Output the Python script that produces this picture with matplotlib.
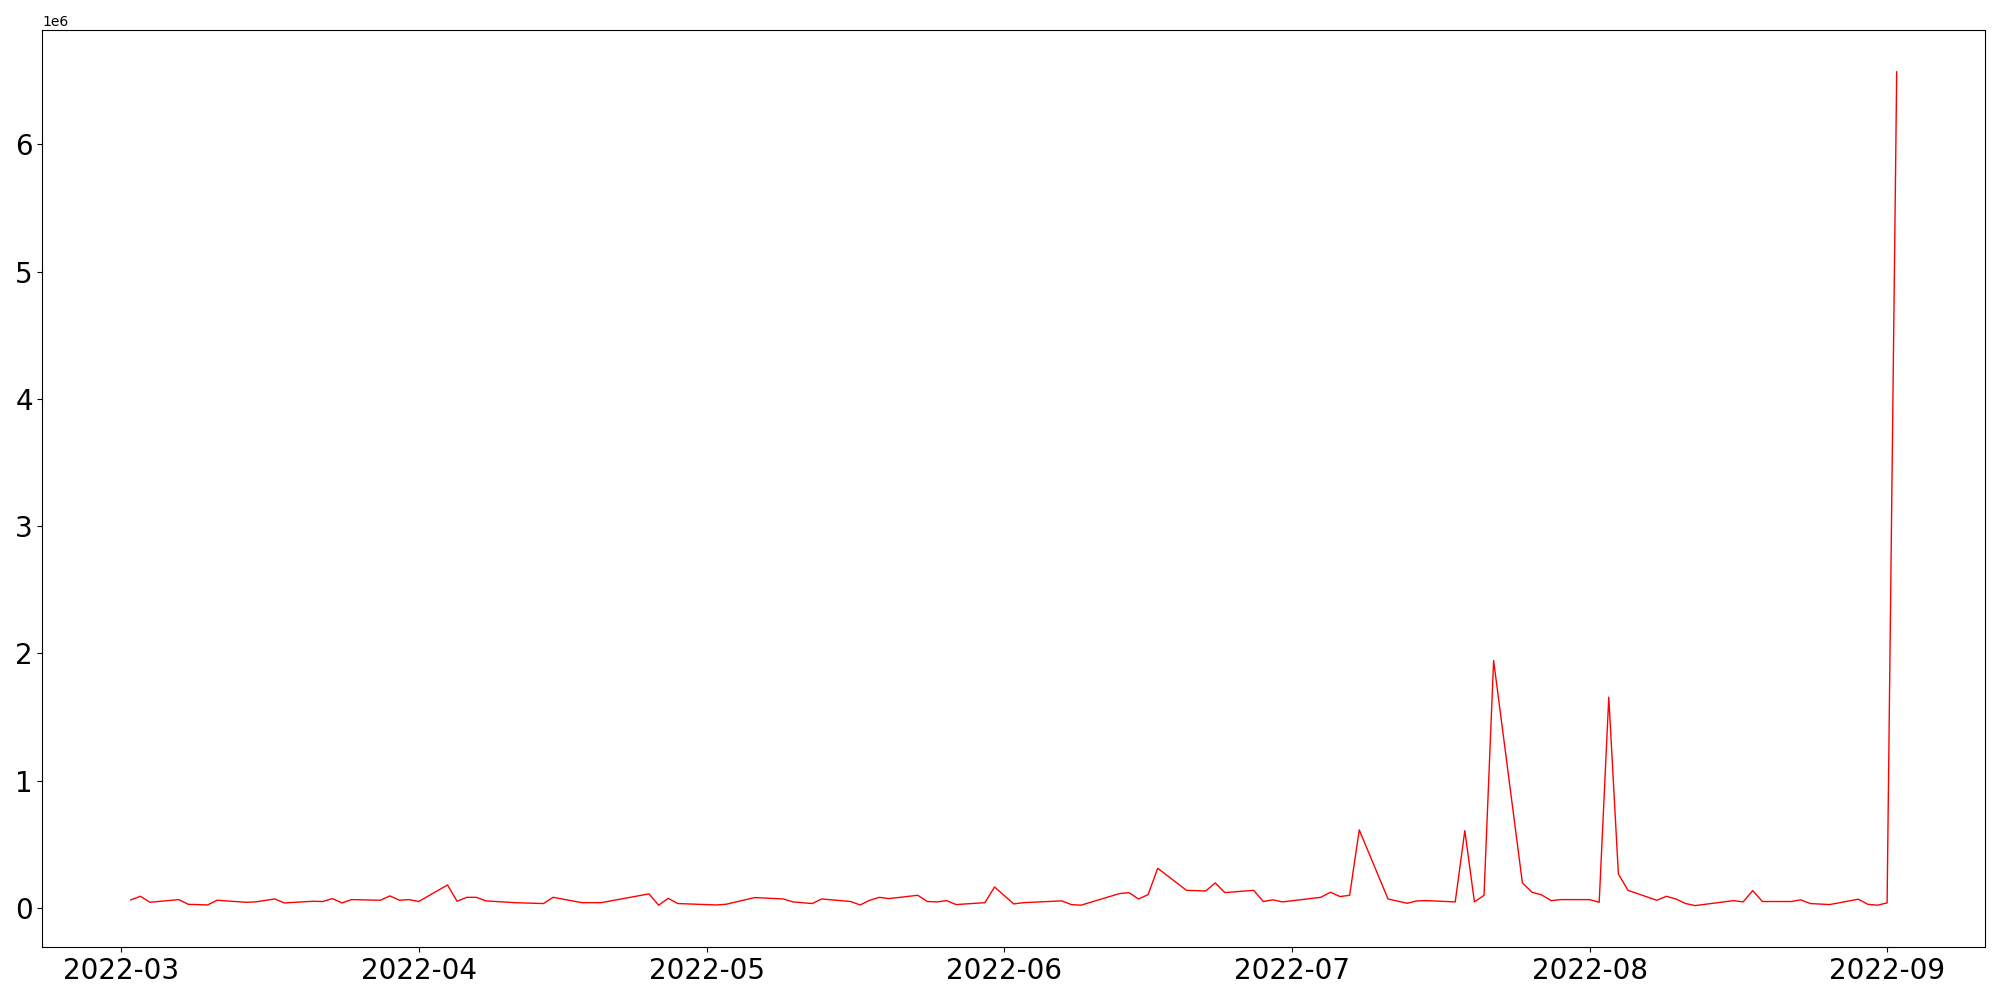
import numpy as np
import pandas as pd
import matplotlib
matplotlib.use('Agg')
import matplotlib.pyplot as plt


# trading days (year 2022)
dates = [
    '03-02', '03-03', '03-04', '03-07', '03-08', '03-10', '03-11', '03-14',
    '03-15', '03-17', '03-18', '03-21', '03-22', '03-23', '03-24', '03-25',
    '03-28', '03-29', '03-30', '03-31', '04-01', '04-04', '04-05', '04-06',
    '04-07', '04-08', '04-11', '04-14', '04-15', '04-18', '04-20', '04-25',
    '04-26', '04-27', '04-28', '05-02', '05-03', '05-06', '05-09', '05-10',
    '05-12', '05-13', '05-16', '05-17', '05-18', '05-19', '05-20', '05-23',
    '05-24', '05-25', '05-26', '05-27', '05-30', '05-31', '06-02', '06-03',
    '06-07', '06-08', '06-09', '06-13', '06-14', '06-15', '06-16', '06-17',
    '06-20', '06-22', '06-23', '06-24', '06-27', '06-28', '06-29', '06-30',
    '07-04', '07-05', '07-06', '07-07', '07-08', '07-11', '07-13', '07-14',
    '07-15', '07-18', '07-19', '07-20', '07-21', '07-22', '07-25', '07-26',
    '07-27', '07-28', '07-29', '08-01', '08-02', '08-03', '08-04', '08-05',
    '08-08', '08-09', '08-10', '08-11', '08-12', '08-16', '08-17', '08-18',
    '08-19', '08-22', '08-23', '08-24', '08-26', '08-29', '08-30', '08-31',
    '09-01', '09-02',
]

# values in millions
values_m = [
    0.063, 0.091, 0.044, 0.065, 0.028, 0.023, 0.060, 0.044,
    0.047, 0.070, 0.039, 0.052, 0.050, 0.073, 0.039, 0.065,
    0.060, 0.094, 0.060, 0.065, 0.050, 0.180, 0.052, 0.083,
    0.083, 0.055, 0.041, 0.034, 0.083, 0.041, 0.041, 0.110,
    0.021, 0.075, 0.034, 0.023, 0.028, 0.081, 0.070, 0.047,
    0.034, 0.070, 0.050, 0.023, 0.060, 0.083, 0.073, 0.099,
    0.050, 0.047, 0.057, 0.026, 0.041, 0.164, 0.031, 0.041,
    0.055, 0.026, 0.021, 0.112, 0.120, 0.070, 0.104, 0.311,
    0.138, 0.133, 0.196, 0.120, 0.138, 0.050, 0.063, 0.047,
    0.083, 0.123, 0.089, 0.099, 0.613, 0.070, 0.036, 0.055,
    0.057, 0.047, 0.607, 0.047, 0.099, 1.944, 0.196, 0.123,
    0.102, 0.057, 0.065, 0.065, 0.044, 1.656, 0.267, 0.138,
    0.060, 0.091, 0.070, 0.034, 0.018, 0.057, 0.047, 0.136,
    0.050, 0.050, 0.063, 0.034, 0.026, 0.068, 0.028, 0.021,
    0.039, 6.570,
]


def plot_series():

    x = pd.to_datetime(['2022-' + d for d in dates])
    y = np.array(values_m) * 1e6

    fig, ax = plt.subplots(figsize=(20, 10), dpi=100)
    ax.plot(x, y, color='red', linewidth=1)
    ax.tick_params(axis='both', labelsize=20)

    fig.tight_layout()
    fig.savefig('out.png')

    return 0


plot_series()
